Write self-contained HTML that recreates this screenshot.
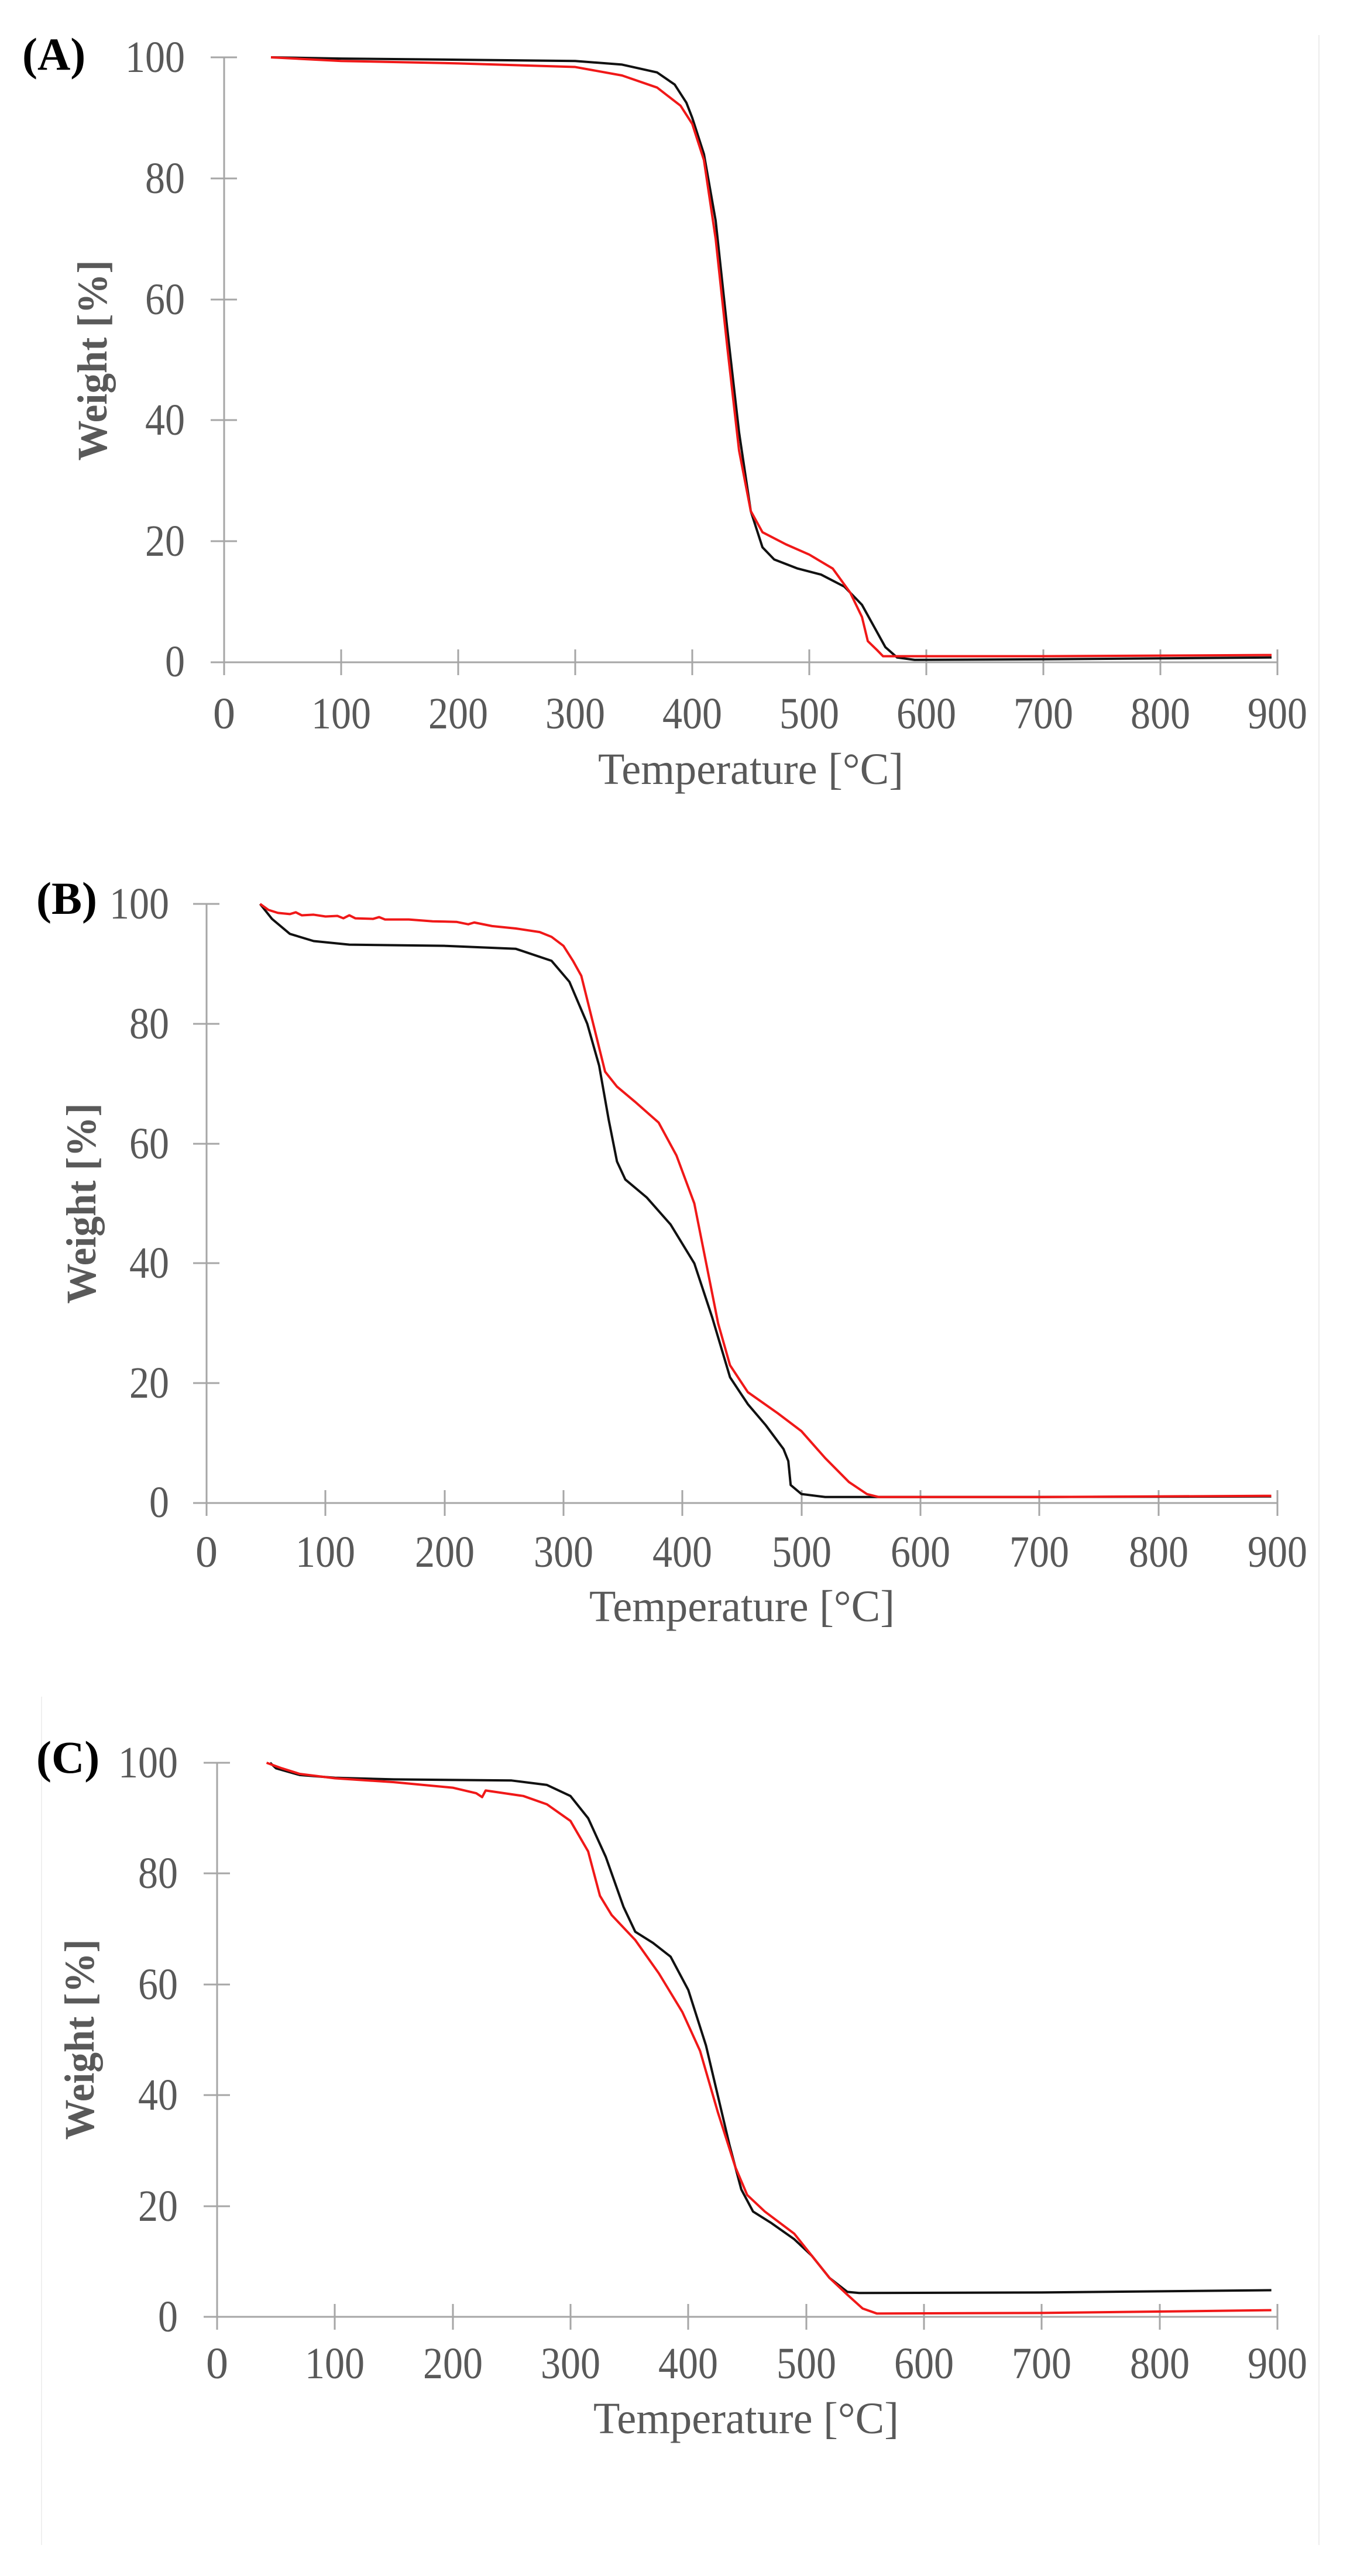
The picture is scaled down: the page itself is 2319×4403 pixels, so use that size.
<!DOCTYPE html>
<html><head><meta charset="utf-8"><style>
html,body{margin:0;padding:0;background:#fff}
svg{display:block}
.t{font-family:"Liberation Serif",serif;fill:#595959;font-size:76px}
.yl{font-family:"Liberation Serif",serif;fill:#595959;font-size:72px;font-weight:bold}
.p{font-family:"Liberation Serif",serif;fill:#000;font-size:78px;font-weight:bold}
.ax{stroke:#a6a6a6;stroke-width:3;fill:none}
.k{fill:none;stroke:#111;stroke-width:4;vector-effect:non-scaling-stroke;stroke-linejoin:round}
.r{fill:none;stroke:#f01818;stroke-width:4;vector-effect:non-scaling-stroke;stroke-linejoin:round}
</style></head><body>
<svg width="2319" height="4403" viewBox="0 0 2319 4403" xmlns="http://www.w3.org/2000/svg">
<rect width="2319" height="4403" fill="#fff"/>
<line x1="2254" y1="60" x2="2254" y2="4350" stroke="#ececec" stroke-width="2"/>
<line x1="71" y1="2900" x2="71" y2="4350" stroke="#f0f0f0" stroke-width="2"/>

<!-- Chart A -->
<g>
<text class="p" x="38" y="119">(A)</text>
<g class="ax">
<line x1="383" y1="98" x2="383" y2="1154"/>
<line x1="360" y1="1132" x2="2183" y2="1132"/>
<line x1="360" y1="98" x2="405" y2="98"/><line x1="360" y1="305" x2="405" y2="305"/><line x1="360" y1="512" x2="405" y2="512"/><line x1="360" y1="718" x2="405" y2="718"/><line x1="360" y1="925" x2="405" y2="925"/>
<line x1="583" y1="1110" x2="583" y2="1154"/><line x1="783" y1="1110" x2="783" y2="1154"/><line x1="983" y1="1110" x2="983" y2="1154"/><line x1="1183" y1="1110" x2="1183" y2="1154"/><line x1="1383" y1="1110" x2="1383" y2="1154"/><line x1="1583" y1="1110" x2="1583" y2="1154"/><line x1="1783" y1="1110" x2="1783" y2="1154"/><line x1="1983" y1="1110" x2="1983" y2="1154"/><line x1="2183" y1="1110" x2="2183" y2="1154"/>
</g>
<g class="t" text-anchor="end">
<text x="316" y="123" textLength="102" lengthAdjust="spacingAndGlyphs">100</text>
<text x="316" y="330" textLength="68" lengthAdjust="spacingAndGlyphs">80</text>
<text x="316" y="537" textLength="68" lengthAdjust="spacingAndGlyphs">60</text>
<text x="316" y="743" textLength="68" lengthAdjust="spacingAndGlyphs">40</text>
<text x="316" y="950" textLength="68" lengthAdjust="spacingAndGlyphs">20</text>
<text x="316" y="1156" textLength="34" lengthAdjust="spacingAndGlyphs">0</text>
</g>
<g class="t" text-anchor="middle">
<text x="383" y="1245">0</text><text x="583" y="1245" textLength="102" lengthAdjust="spacingAndGlyphs">100</text><text x="783" y="1245" textLength="102" lengthAdjust="spacingAndGlyphs">200</text><text x="983" y="1245" textLength="102" lengthAdjust="spacingAndGlyphs">300</text><text x="1183" y="1245" textLength="102" lengthAdjust="spacingAndGlyphs">400</text><text x="1383" y="1245" textLength="102" lengthAdjust="spacingAndGlyphs">500</text><text x="1583" y="1245" textLength="102" lengthAdjust="spacingAndGlyphs">600</text><text x="1783" y="1245" textLength="102" lengthAdjust="spacingAndGlyphs">700</text><text x="1983" y="1245" textLength="102" lengthAdjust="spacingAndGlyphs">800</text><text x="2183" y="1245" textLength="102" lengthAdjust="spacingAndGlyphs">900</text>
<text x="1283" y="1340" textLength="522" lengthAdjust="spacingAndGlyphs">Temperature [°C]</text>
</g>
<text class="yl" text-anchor="middle" transform="translate(182,616) rotate(-90)" textLength="343" lengthAdjust="spacingAndGlyphs">Weight [%]</text>
<g transform="translate(383,1132) scale(2.0,-10.34)">
<polyline class="k" points="40,100 100,99.8 200,99.6 300,99.4 340,98.8 370,97.5 385,95.5 395,92.5 400,90 410,84 420,73 430,55 440,38 450,25 460,19 470,17 490,15.5 510,14.5 530,12.5 545,9.5 555,6 565,2.5 575,0.8 590,0.4 700,0.5 895,0.8"/>
<polyline class="r" points="40,100 100,99.4 200,99 300,98.4 340,97 370,95 390,92 400,89 410,83 420,70 430,52 440,35 450,25 460,21.5 480,19.5 500,17.8 520,15.5 535,11.5 545,7.5 550,3.5 558,2 563,1 700,1 895,1.2"/>
</g>
</g>

<!-- Chart B -->
<g>
<text class="p" x="62" y="1562">(B)</text>
<g class="ax">
<line x1="353" y1="1545" x2="353" y2="2591"/>
<line x1="330" y1="2569" x2="2183" y2="2569"/>
<line x1="330" y1="1545" x2="375" y2="1545"/><line x1="330" y1="1750" x2="375" y2="1750"/><line x1="330" y1="1955" x2="375" y2="1955"/><line x1="330" y1="2159" x2="375" y2="2159"/><line x1="330" y1="2364" x2="375" y2="2364"/>
<line x1="556" y1="2547" x2="556" y2="2591"/><line x1="760" y1="2547" x2="760" y2="2591"/><line x1="963" y1="2547" x2="963" y2="2591"/><line x1="1166" y1="2547" x2="1166" y2="2591"/><line x1="1370" y1="2547" x2="1370" y2="2591"/><line x1="1573" y1="2547" x2="1573" y2="2591"/><line x1="1776" y1="2547" x2="1776" y2="2591"/><line x1="1980" y1="2547" x2="1980" y2="2591"/><line x1="2183" y1="2547" x2="2183" y2="2591"/>
</g>
<g class="t" text-anchor="end">
<text x="289" y="1570" textLength="102" lengthAdjust="spacingAndGlyphs">100</text>
<text x="289" y="1775" textLength="68" lengthAdjust="spacingAndGlyphs">80</text>
<text x="289" y="1980" textLength="68" lengthAdjust="spacingAndGlyphs">60</text>
<text x="289" y="2184" textLength="68" lengthAdjust="spacingAndGlyphs">40</text>
<text x="289" y="2389" textLength="68" lengthAdjust="spacingAndGlyphs">20</text>
<text x="289" y="2593" textLength="34" lengthAdjust="spacingAndGlyphs">0</text>
</g>
<g class="t" text-anchor="middle">
<text x="353" y="2678">0</text><text x="556" y="2678" textLength="102" lengthAdjust="spacingAndGlyphs">100</text><text x="760" y="2678" textLength="102" lengthAdjust="spacingAndGlyphs">200</text><text x="963" y="2678" textLength="102" lengthAdjust="spacingAndGlyphs">300</text><text x="1166" y="2678" textLength="102" lengthAdjust="spacingAndGlyphs">400</text><text x="1370" y="2678" textLength="102" lengthAdjust="spacingAndGlyphs">500</text><text x="1573" y="2678" textLength="102" lengthAdjust="spacingAndGlyphs">600</text><text x="1776" y="2678" textLength="102" lengthAdjust="spacingAndGlyphs">700</text><text x="1980" y="2678" textLength="102" lengthAdjust="spacingAndGlyphs">800</text><text x="2183" y="2678" textLength="102" lengthAdjust="spacingAndGlyphs">900</text>
<text x="1268" y="2771" textLength="522" lengthAdjust="spacingAndGlyphs">Temperature [°C]</text>
</g>
<text class="yl" text-anchor="middle" transform="translate(163,2057) rotate(-90)" textLength="343" lengthAdjust="spacingAndGlyphs">Weight [%]</text>
<g transform="translate(353,2569) scale(2.033,-10.24)">
<polyline class="k" points="45,100 55,97.5 70,95 90,93.8 120,93.2 200,93 260,92.5 290,90.5 305,87 320,80 330,73 338,64 345,57 352,54 370,51 390,46.5 410,40 425,31 440,21 455,16.5 470,13 485,9 489,7 491,3 500,1.5 520,1 700,1 895,1.1"/>
<polyline class="r" points="45,100 52,99 60,98.5 70,98.3 75,98.6 80,98.1 90,98.2 100,97.9 110,98 115,97.6 120,98.1 125,97.6 140,97.5 145,97.8 150,97.4 170,97.4 190,97.1 210,97 220,96.6 225,96.9 240,96.3 260,95.9 280,95.3 290,94.5 300,93 308,90.5 315,88 325,80 335,72 345,69.5 360,67 380,63.5 395,58 410,50 420,40 430,30 440,23 455,18.5 480,15 500,12 520,7.5 540,3.5 555,1.5 565,1 700,1 895,1.2"/>
</g>
</g>

<!-- Chart C -->
<g>
<text class="p" x="62" y="3030">(C)</text>
<g class="ax">
<line x1="371" y1="3013" x2="371" y2="3982"/>
<line x1="348" y1="3960" x2="2183" y2="3960"/>
<line x1="348" y1="3013" x2="393" y2="3013"/><line x1="348" y1="3202" x2="393" y2="3202"/><line x1="348" y1="3392" x2="393" y2="3392"/><line x1="348" y1="3581" x2="393" y2="3581"/><line x1="348" y1="3771" x2="393" y2="3771"/>
<line x1="572" y1="3938" x2="572" y2="3982"/><line x1="774" y1="3938" x2="774" y2="3982"/><line x1="975" y1="3938" x2="975" y2="3982"/><line x1="1176" y1="3938" x2="1176" y2="3982"/><line x1="1378" y1="3938" x2="1378" y2="3982"/><line x1="1579" y1="3938" x2="1579" y2="3982"/><line x1="1780" y1="3938" x2="1780" y2="3982"/><line x1="1982" y1="3938" x2="1982" y2="3982"/><line x1="2183" y1="3938" x2="2183" y2="3982"/>
</g>
<g class="t" text-anchor="end">
<text x="304" y="3038" textLength="102" lengthAdjust="spacingAndGlyphs">100</text>
<text x="304" y="3227" textLength="68" lengthAdjust="spacingAndGlyphs">80</text>
<text x="304" y="3417" textLength="68" lengthAdjust="spacingAndGlyphs">60</text>
<text x="304" y="3606" textLength="68" lengthAdjust="spacingAndGlyphs">40</text>
<text x="304" y="3796" textLength="68" lengthAdjust="spacingAndGlyphs">20</text>
<text x="304" y="3985" textLength="34" lengthAdjust="spacingAndGlyphs">0</text>
</g>
<g class="t" text-anchor="middle">
<text x="371" y="4065">0</text><text x="572" y="4065" textLength="102" lengthAdjust="spacingAndGlyphs">100</text><text x="774" y="4065" textLength="102" lengthAdjust="spacingAndGlyphs">200</text><text x="975" y="4065" textLength="102" lengthAdjust="spacingAndGlyphs">300</text><text x="1176" y="4065" textLength="102" lengthAdjust="spacingAndGlyphs">400</text><text x="1378" y="4065" textLength="102" lengthAdjust="spacingAndGlyphs">500</text><text x="1579" y="4065" textLength="102" lengthAdjust="spacingAndGlyphs">600</text><text x="1780" y="4065" textLength="102" lengthAdjust="spacingAndGlyphs">700</text><text x="1982" y="4065" textLength="102" lengthAdjust="spacingAndGlyphs">800</text><text x="2183" y="4065" textLength="102" lengthAdjust="spacingAndGlyphs">900</text>
<text x="1275" y="4159" textLength="522" lengthAdjust="spacingAndGlyphs">Temperature [°C]</text>
</g>
<text class="yl" text-anchor="middle" transform="translate(160,3486) rotate(-90)" textLength="343" lengthAdjust="spacingAndGlyphs">Weight [%]</text>
<g transform="translate(371,3960) scale(2.013,-9.47)">
<polyline class="k" points="45,100 50,99 70,97.8 100,97.3 150,97 250,96.8 280,96 300,94 315,90 330,83 345,74 355,69.5 370,67.5 385,65 400,59 415,49 425,40 435,31 445,23 455,19 470,17 490,14 505,11 520,7 535,4.5 545,4.3 700,4.4 895,4.8"/>
<polyline class="r" points="42,100 55,99 70,98 100,97.2 150,96.5 200,95.5 220,94.5 225,93.8 228,95 260,94 280,92.5 300,89.5 315,84 325,76 335,72.5 355,68 375,62 395,55 410,48 425,37 440,27 450,22 465,19 490,15 505,11 520,7 535,4 548,1.5 560,0.6 700,0.7 895,1.2"/>
</g>
</g>
</svg>
</body></html>
